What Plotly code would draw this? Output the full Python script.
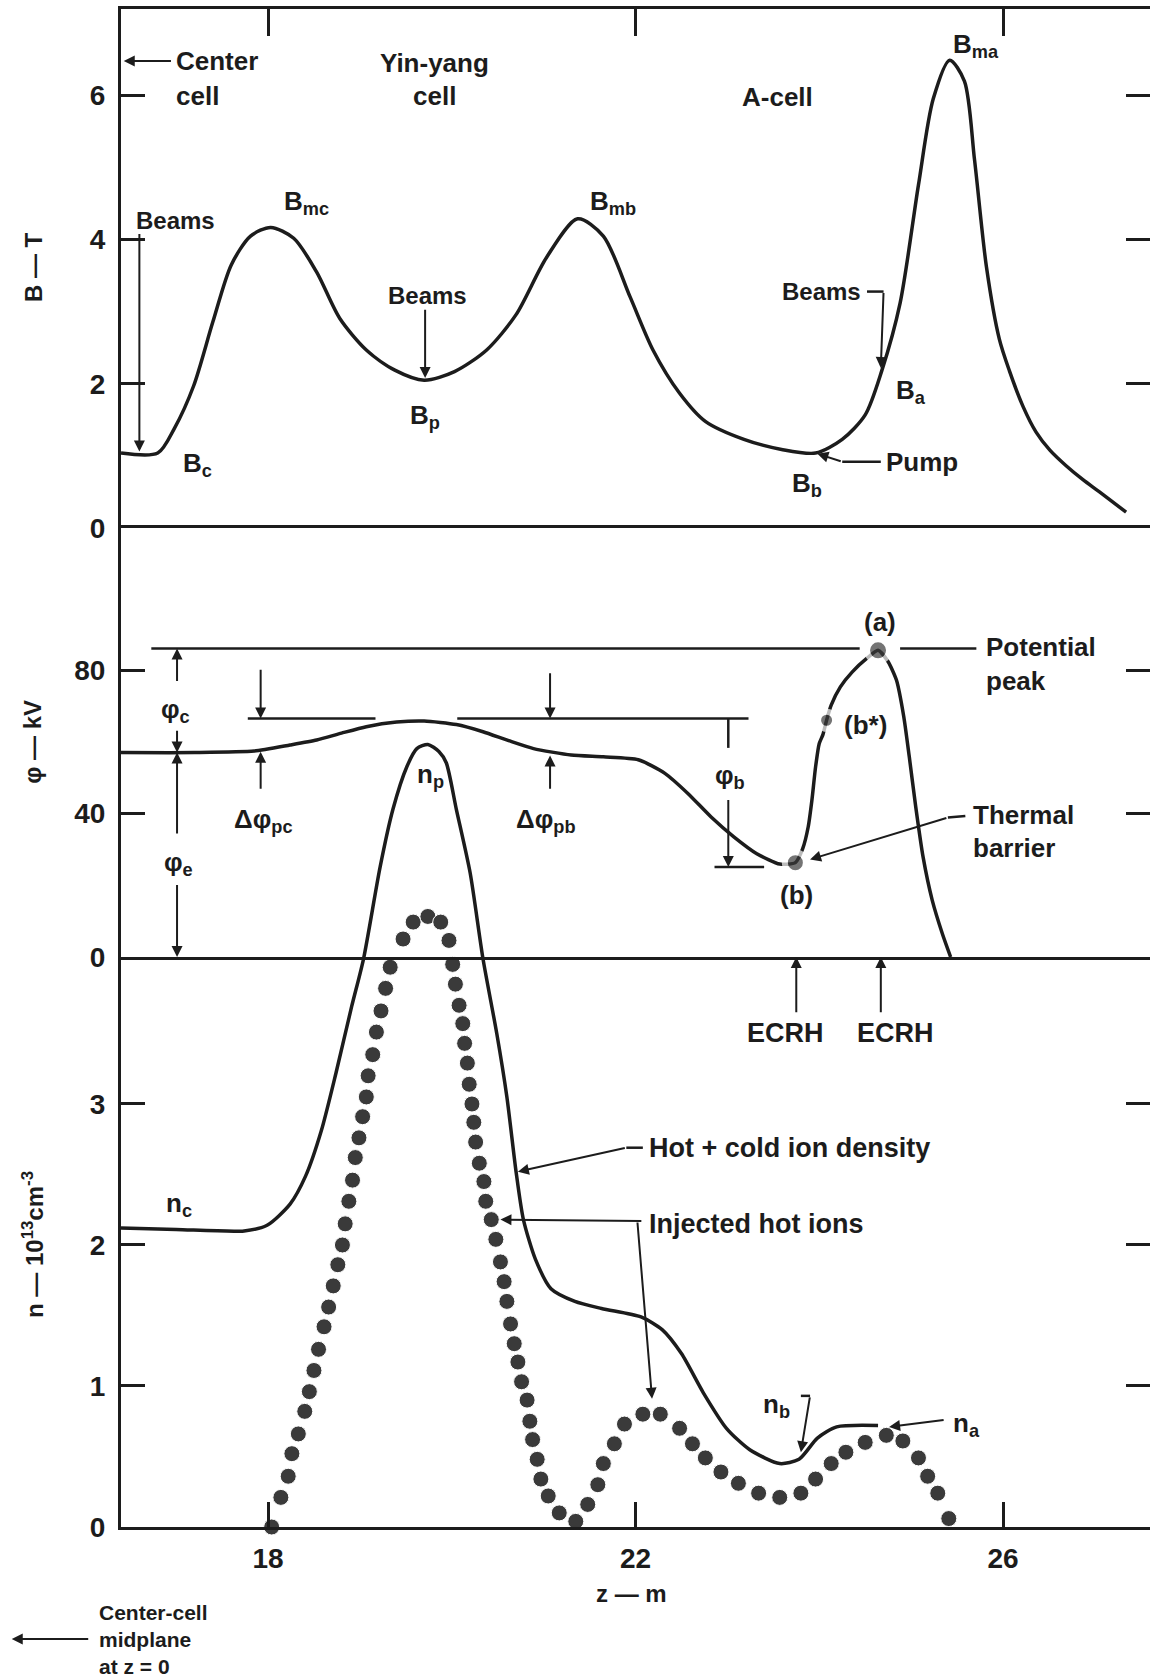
import plotly.graph_objects as go

# ---------------- data ----------------
# magnetic field B (T) along z (m)
z_B = [16.40, 16.80, 16.98, 17.19, 17.40, 17.60, 17.81, 18.03, 18.28, 18.53, 18.78,
       19.07, 19.38, 19.70, 20.03, 20.38, 20.70, 21.03, 21.37, 21.65, 21.94, 22.19,
       22.48, 22.76, 23.18, 23.59, 23.96, 24.25, 24.50, 24.68, 24.88, 25.08, 25.24,
       25.42, 25.58, 25.69, 25.82, 25.96, 26.07, 26.22, 26.36, 26.51, 26.69, 26.87,
       27.05, 27.34]
B_T = [1.04, 1.04, 1.38, 1.97, 2.86, 3.65, 4.05, 4.17, 4.02, 3.55, 2.91,
       2.47, 2.19, 2.05, 2.17, 2.47, 2.96, 3.75, 4.29, 4.05, 3.21, 2.47,
       1.87, 1.48, 1.23, 1.09, 1.04, 1.23, 1.57, 2.18, 3.12, 4.76, 5.95,
       6.49, 6.20, 5.11, 3.62, 2.62, 2.18, 1.68, 1.33, 1.08, 0.86, 0.67,
       0.50, 0.22]

# potential phi (kV)
z_phi = [16.40, 17.20, 17.85, 18.24, 18.53, 18.80, 19.07, 19.40, 19.70, 20.05, 20.34,
         20.62, 20.89, 21.30, 21.65, 22.03, 22.32, 22.57, 22.82, 23.07, 23.32, 23.57,
         23.74, 23.82, 23.88, 23.92, 23.96, 24.00, 24.04, 24.08, 24.13, 24.23, 24.36,
         24.52, 24.64, 24.75, 24.84, 24.92, 24.98, 25.05, 25.13, 25.23, 25.34, 25.43]
phi_kV = [57.0, 57.0, 57.4, 59.1, 60.5, 62.4, 64.2, 65.5, 65.8, 64.8, 62.8,
          60.3, 58.1, 56.3, 55.8, 55.0, 51.2, 45.6, 39.1, 33.5, 28.8, 25.9,
          26.3, 30.2, 36.3, 43.7, 53.0, 59.5, 62.0, 66.0, 70.2, 75.3, 79.5,
          83.3, 85.5, 82.3, 77.2, 67.0, 55.8, 41.9, 27.9, 15.8, 6.5, 0.0]

# marked points on the potential curve
pt_names = ["(a)", "(b*)", "(b)"]
z_pts = [24.64, 24.08, 23.74]
phi_pts = [85.5, 66.0, 26.3]

# reference potential levels (kV)
phi_peak = 86.0
phi_upper = 66.5
phi_center = 57.0
phi_barrier = 25.1

# hot + cold ion density (1e13 cm^-3)
z_n = [16.40, 17.00, 17.74, 17.99, 18.24, 18.41, 18.58, 18.74, 18.91, 19.04, 19.22,
       19.36, 19.51, 19.62, 19.74, 19.86, 19.94, 20.05, 20.20, 20.34, 20.49, 20.60,
       20.70, 20.78, 20.91, 21.08, 21.34, 21.63, 22.06, 22.29, 22.50, 22.74, 22.99,
       23.24, 23.57, 23.78, 23.98, 24.19, 24.64]
n_tot = [2.12, 2.11, 2.10, 2.14, 2.29, 2.49, 2.81, 3.22, 3.69, 4.03, 4.68,
         5.09, 5.39, 5.52, 5.55, 5.50, 5.42, 5.09, 4.64, 4.03, 3.50, 3.05,
         2.52, 2.18, 1.90, 1.69, 1.60, 1.55, 1.49, 1.40, 1.23, 0.95, 0.70,
         0.55, 0.45, 0.48, 0.63, 0.71, 0.72]

# injected hot ions (dotted)
z_hot = [18.04, 18.14, 18.22, 18.26, 18.33, 18.40, 18.45, 18.50, 18.55, 18.61, 18.66,
         18.71, 18.76, 18.81, 18.84, 18.88, 18.92, 18.95, 18.99, 19.03, 19.07, 19.09,
         19.14, 19.18, 19.23, 19.28, 19.33, 19.47, 19.58, 19.74, 19.88, 19.97, 20.01,
         20.04, 20.08, 20.12, 20.14, 20.17, 20.19, 20.22, 20.24, 20.26, 20.30, 20.35,
         20.37, 20.43, 20.48, 20.53, 20.57, 20.60, 20.64, 20.68, 20.72, 20.76, 20.82,
         20.85, 20.88, 20.93, 20.97, 21.05, 21.17, 21.35, 21.48, 21.59, 21.65, 21.77,
         21.88, 22.08, 22.27, 22.48, 22.62, 22.76, 22.93, 23.12, 23.34, 23.57, 23.80,
         23.96, 24.13, 24.29, 24.50, 24.73, 24.91, 25.08, 25.18, 25.29, 25.41]
n_hot = [0.00, 0.21, 0.36, 0.52, 0.66, 0.82, 0.96, 1.11, 1.26, 1.42, 1.56,
         1.71, 1.86, 2.00, 2.15, 2.31, 2.46, 2.62, 2.76, 2.91, 3.05, 3.20,
         3.35, 3.51, 3.66, 3.82, 3.97, 4.17, 4.29, 4.33, 4.29, 4.16, 3.99,
         3.85, 3.70, 3.57, 3.43, 3.29, 3.14, 3.00, 2.87, 2.73, 2.58, 2.45,
         2.31, 2.18, 2.04, 1.88, 1.74, 1.60, 1.44, 1.30, 1.17, 1.03, 0.90,
         0.75, 0.62, 0.48, 0.34, 0.22, 0.10, 0.04, 0.16, 0.30, 0.45, 0.59,
         0.73, 0.80, 0.80, 0.70, 0.59, 0.49, 0.39, 0.31, 0.24, 0.21, 0.24,
         0.34, 0.45, 0.53, 0.60, 0.65, 0.61, 0.49, 0.36, 0.24, 0.06]

# axes
z_range = [16.40, 27.60]
x_ticks = [18, 22, 26]
B_range = [0, 7.2]
B_ticks = [0, 2, 4, 6]
phi_range = [0, 119.6]
phi_ticks = [0, 40, 80]
n_range = [0, 7.085]
n_ticks = [0, 1, 2, 3]

# ---------------- styling ----------------
FONT = "Liberation Sans"
INK = "#1c1c1c"
DOT = "#3a3a3a"
LW = 3.5
FS = 26

fig = go.Figure()

fig.add_trace(go.Scatter(x=z_B, y=B_T, xaxis="x2", yaxis="y", mode="lines",
                         line=dict(color=INK, width=LW, shape="spline", smoothing=0.8),
                         hoverinfo="skip"))
fig.add_trace(go.Scatter(x=z_phi, y=phi_kV, xaxis="x3", yaxis="y2", mode="lines",
                         line=dict(color=INK, width=LW, shape="spline", smoothing=0.6),
                         hoverinfo="skip"))
fig.add_trace(go.Scatter(x=z_pts, y=phi_pts, xaxis="x3", yaxis="y2", mode="markers",
                         text=pt_names, hoverinfo="text",
                         marker=dict(size=[22, 17, 21], color=DOT,
                                     line=dict(color="white", width=6)),
                         cliponaxis=False))
fig.add_trace(go.Scatter(x=z_n, y=n_tot, xaxis="x", yaxis="y3", mode="lines",
                         line=dict(color=INK, width=LW, shape="spline", smoothing=0.7),
                         hoverinfo="skip"))
fig.add_trace(go.Scatter(x=z_hot, y=n_hot, xaxis="x", yaxis="y3", mode="markers",
                         marker=dict(size=16, color=DOT, line=dict(color="white", width=1)),
                         cliponaxis=False, hoverinfo="skip"))
# empty traces so the right-hand tick axes are laid out
for xa, ya in (("x2", "y4"), ("x3", "y5"), ("x", "y6")):
    fig.add_trace(go.Scatter(x=[], y=[], xaxis=xa, yaxis=ya, hoverinfo="skip"))


def T(text, x, y, yref, xanchor="center", size=FS, xref="x", angle=0):
    return dict(text=text, x=x, y=y, xref=xref, yref=yref, showarrow=False,
                xanchor=xanchor, yanchor="middle", textangle=angle,
                font=dict(family=FONT, size=size, color=INK, weight="bold"))


def A(x0, y0, x1, y1, yref, xref="x"):
    return dict(text="", x=x1, y=y1, ax=x0, ay=y0, xref=xref, yref=yref,
                axref=xref, ayref=yref, showarrow=True, arrowhead=2,
                arrowsize=1.1, arrowwidth=2, arrowcolor=INK)


def L(x0, y0, x1, y1, yref, xref="x"):
    return dict(type="line", x0=x0, y0=y0, x1=x1, y1=y1, xref=xref, yref=yref,
                line=dict(color=INK, width=2.5))


ann = []
shapes = []

# --- top panel (B) ---
ann += [
    T("Center", 16.98, 6.48, "y", "left"),
    T("cell", 16.98, 6.00, "y", "left"),
    T("Yin-yang", 19.81, 6.45, "y"),
    T("cell", 19.81, 6.00, "y"),
    T("A-cell", 23.55, 5.98, "y"),
    T("B<sub>mc</sub>", 18.42, 4.52, "y"),
    T("Beams", 16.99, 4.26, "y", size=24),
    T("B<sub>c</sub>", 17.23, 0.88, "y"),
    T("Beams", 19.74, 3.23, "y", size=24),
    T("B<sub>p</sub>", 19.71, 1.55, "y"),
    T("B<sub>mb</sub>", 21.75, 4.52, "y"),
    T("Beams", 24.02, 3.28, "y", size=24),
    T("B<sub>a</sub>", 25.00, 1.90, "y"),
    T("B<sub>b</sub>", 23.87, 0.61, "y"),
    T("Pump", 24.71, 0.92, "y", "left"),
    T("B<sub>ma</sub>", 25.71, 6.70, "y"),
    A(16.96, 6.48, 16.43, 6.48, "y"),
    A(16.60, 4.10, 16.60, 1.06, "y"),
    A(19.71, 3.05, 19.71, 2.08, "y"),
    A(24.70, 3.28, 24.67, 2.22, "y"),
    A(24.25, 0.92, 23.98, 1.03, "y"),
]
shapes += [
    L(24.52, 3.28, 24.70, 3.28, "y"),
    L(24.67, 0.92, 24.25, 0.92, "y"),
]

# --- middle panel (phi) ---
ann += [
    T("φ<sub>c</sub>", 16.99, 68.7, "y2"),
    T("φ<sub>e</sub>", 17.03, 26.0, "y2"),
    T("Δφ<sub>pc</sub>", 17.95, 38.1, "y2"),
    T("Δφ<sub>pb</sub>", 21.03, 38.1, "y2"),
    T("φ<sub>b</sub>", 23.03, 50.2, "y2"),
    T("(a)", 24.66, 93.5, "y2"),
    T("(b*)", 24.25, 64.7, "y2", "left"),
    T("(b)", 23.75, 17.2, "y2"),
    T("Potential", 25.79, 86.3, "y2", "left"),
    T("peak", 25.79, 77.0, "y2", "left"),
    T("Thermal", 25.65, 39.5, "y2", "left"),
    T("barrier", 25.65, 30.5, "y2", "left"),
    T("ECRH", 23.63, 3.50, "y3", size=27),
    T("ECRH", 24.83, 3.50, "y3", size=27),
    A(17.01, 76.5, 17.01, phi_peak, "y2"),
    A(17.01, 63.5, 17.01, phi_center, "y2"),
    A(17.01, 34.0, 17.01, phi_center, "y2"),
    A(17.01, 20.5, 17.01, 0.0, "y2"),
    A(17.92, 80.5, 17.92, phi_upper, "y2"),
    A(17.92, 46.5, 17.92, 57.2, "y2"),
    A(21.07, 79.5, 21.07, phi_upper, "y2"),
    A(21.07, 46.5, 21.07, 56.2, "y2"),
    A(23.01, 44.2, 23.01, phi_barrier, "y2"),
    A(25.40, 38.9, 23.90, 27.2, "y2"),
    A(23.75, -15.8, 23.75, 0.0, "y2"),
    A(24.67, -15.8, 24.67, 0.0, "y2"),
]
shapes += [
    L(16.73, phi_peak, 24.44, phi_peak, "y2"),
    L(24.88, phi_peak, 25.71, phi_peak, "y2"),
    L(17.78, phi_upper, 19.17, phi_upper, "y2"),
    L(20.06, phi_upper, 23.23, phi_upper, "y2"),
    L(22.86, phi_barrier, 23.40, phi_barrier, "y2"),
    L(23.01, phi_upper, 23.01, 58.3, "y2"),
    L(25.59, 39.3, 25.40, 38.9, "y2"),
]

# --- bottom panel (n) ---
ann += [
    T("n<sub>c</sub>", 17.03, 2.29, "y3"),
    T("n<sub>p</sub>", 19.77, 5.33, "y3"),
    T("Hot + cold ion density", 22.12, 2.69, "y3", "left", size=27),
    T("Injected hot ions", 22.12, 2.15, "y3", "left", size=27),
    T("n<sub>b</sub>", 23.54, 0.86, "y3"),
    T("n<sub>a</sub>", 25.43, 0.73, "y3", "left"),
    A(21.90, 2.69, 20.72, 2.52, "y3"),
    A(22.08, 2.17, 20.53, 2.18, "y3"),
    A(22.02, 2.17, 22.18, 0.91, "y3"),
    A(23.90, 0.93, 23.80, 0.53, "y3"),
    A(25.37, 0.76, 24.76, 0.71, "y3"),
]
shapes += [
    L(22.08, 2.69, 21.90, 2.69, "y3"),
    L(23.80, 0.93, 23.90, 0.93, "y3"),
]

# --- axis titles and bottom notes ---
ann += [
    T("B — T", -0.0855, 3.62, "y", size=24, xref="paper", angle=-90),
    T("φ — kV", -0.0855, 60.0, "y2", size=24, xref="paper", angle=-90),
    T("n — 10<sup>13</sup>cm<sup>-3</sup>", -0.0855, 2.0, "y3", size=24, xref="paper", angle=-90),
    T("z — m", 21.96, -0.0435, "paper", size=24),
    T("Center-cell", -0.0236, -0.0560, "paper", "left", xref="paper", size=21),
    T("midplane", -0.0236, -0.0738, "paper", "left", xref="paper", size=21),
    T("at z = 0", -0.0236, -0.0916, "paper", "left", xref="paper", size=21),
    dict(text="", x=-0.1062, y=-0.0738, xref="paper", yref="paper",
         axref="pixel", ayref="pixel", ax=78, ay=0, showarrow=True,
         arrowhead=2, arrowsize=1.1, arrowwidth=2, arrowcolor=INK),
]

tickfont = dict(family=FONT, size=28, color=INK, weight="bold")
common_x = dict(domain=[0, 1], range=z_range, showgrid=False, zeroline=False,
                linecolor=INK, linewidth=3, tickcolor=INK, tickwidth=2.5)
common_y = dict(showgrid=False, zeroline=False, linecolor=INK, linewidth=3,
                tickcolor=INK, tickwidth=2.5, ticks="inside", ticklen=24,
                tickfont=tickfont, ticklabelstandoff=7)
right_y = dict(showgrid=False, zeroline=False, showline=False, side="right",
               ticks="inside", ticklen=24, tickcolor=INK, tickwidth=2.5,
               showticklabels=False)

fig.update_layout(
    width=1150, height=1680,
    margin=dict(l=121, r=0, t=9, b=153),
    paper_bgcolor="white", plot_bgcolor="rgba(0,0,0,0)",
    showlegend=False,
    font=dict(family=FONT, size=FS, color=INK),
    xaxis=dict(**common_x, anchor="y3", showline=True, ticks="inside", ticklen=25,
               tickvals=x_ticks, tickfont=tickfont, ticklabelstandoff=4),
    xaxis2=dict(**common_x, anchor="y", side="top", showline=True, ticks="inside",
                ticklen=27, tickvals=x_ticks, showticklabels=False),
    xaxis3=dict(**common_x, anchor="y2", showline=True, mirror=True, ticks="",
                showticklabels=False),
    yaxis=dict(**common_y, domain=[0.6581, 1.0], range=B_range, tickvals=B_ticks,
               anchor="x2", showline=True),
    yaxis2=dict(**common_y, domain=[0.3755, 0.6581], range=phi_range,
                tickvals=phi_ticks, anchor="x3", showline=True),
    yaxis3=dict(**common_y, domain=[0, 0.6581], range=n_range, tickvals=n_ticks,
                anchor="x", showline=True),
    yaxis4=dict(**right_y, overlaying="y", anchor="x2", range=B_range, tickvals=B_ticks[1:]),
    yaxis5=dict(**right_y, overlaying="y2", anchor="x3", range=phi_range, tickvals=phi_ticks[1:]),
    yaxis6=dict(**right_y, overlaying="y3", anchor="x", range=n_range, tickvals=n_ticks[1:]),
    annotations=ann,
    shapes=shapes,
)

fig.write_html("out.html", config={"displayModeBar": False},
               post_script="document.body.style.margin='0px';")
